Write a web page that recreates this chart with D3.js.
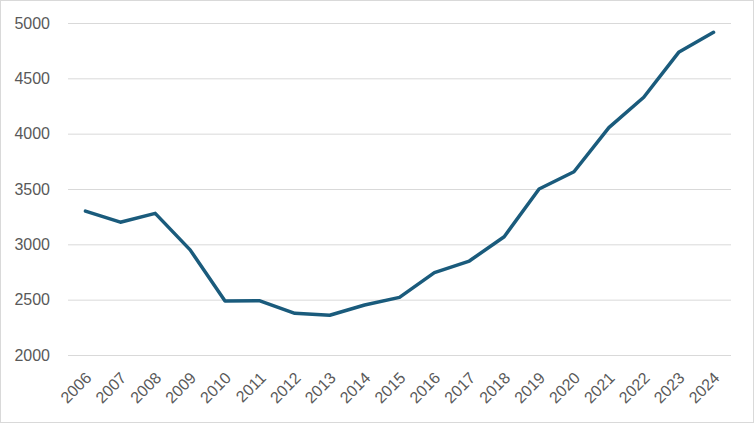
<!DOCTYPE html>
<html>
<head>
<meta charset="utf-8">
<script src="https://cdn.jsdelivr.net/npm/d3@7"></script>
<style>
  html, body { margin: 0; padding: 0; background: #fff; }
  svg { display: block; }
  text { font-family: "Liberation Sans", Arial, sans-serif; fill: #595959; }
</style>
</head>
<body>
<div id="chart"></div>
<script>
// chart data
var years = ["2006", "2007", "2008", "2009", "2010", "2011", "2012", "2013", "2014", "2015",
             "2016", "2017", "2018", "2019", "2020", "2021", "2022", "2023", "2024"];
var values = [3300, 3200, 3280, 2950, 2488, 2490, 2377, 2359, 2452, 2521,
              2744, 2849, 3069, 3500, 3656, 4054, 4329, 4735, 4916];
var yTicks = [2000, 2500, 3000, 3500, 4000, 4500, 5000];

var width = 754, height = 423;
var margin = { left: 68, right: 23, top: 23, bottom: 68 };

var svg = d3.select("#chart").append("svg")
    .attr("width", width)
    .attr("height", height);

// outer border
svg.append("rect")
    .attr("x", 0.5).attr("y", 0.5)
    .attr("width", width - 1).attr("height", height - 1)
    .attr("fill", "#fff")
    .attr("stroke", "#d9d9d9");

var x = d3.scaleBand()
    .domain(years)
    .range([margin.left, width - margin.right]);

var y = d3.scaleLinear()
    .domain([2000, 5000])
    .range([height - margin.bottom, margin.top]);

// gridlines + y labels
var yAxis = svg.append("g")
    .attr("transform", "translate(" + margin.left + ",0)")
    .call(d3.axisLeft(y).tickValues(yTicks).tickFormat(d3.format("d"))
        .tickSize(-(width - margin.left - margin.right)).tickPadding(18));
yAxis.select(".domain").remove();
yAxis.selectAll(".tick line").attr("stroke", "#d9d9d9").attr("stroke-width", 1);
yAxis.selectAll(".tick text")
    .style("font-size", "16px")
    .style("fill", "#595959");

// x labels, rotated
var xAxis = svg.append("g")
    .attr("transform", "translate(0," + (height - margin.bottom) + ")")
    .call(d3.axisBottom(x).tickSize(0).tickPadding(0));
xAxis.select(".domain").remove();
xAxis.selectAll(".tick text")
    .style("font-size", "16px")
    .style("fill", "#595959")
    .attr("text-anchor", "end")
    .attr("dy", null)
    .attr("y", 0)
    .attr("transform", "translate(7,24) rotate(-45)");

// the line
var line = d3.line()
    .x(function (d, i) { return x(years[i]) + x.bandwidth() / 2; })
    .y(function (d) { return y(d); });

svg.append("path")
    .datum(values)
    .attr("d", line)
    .attr("fill", "none")
    .attr("stroke", "#1a5b7c")
    .attr("stroke-width", 3.5)
    .attr("stroke-linejoin", "round")
    .attr("stroke-linecap", "round");
</script>
</body>
</html>
